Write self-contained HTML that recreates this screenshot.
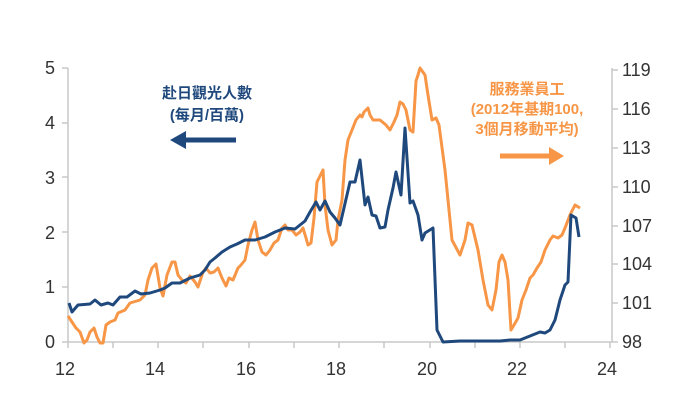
<!DOCTYPE html>
<html><head><meta charset="utf-8"><style>body{margin:0;background:#fff}svg{display:block}</style></head><body>
<svg width="700" height="420" xmlns="http://www.w3.org/2000/svg" font-family="Liberation Sans, Noto Sans CJK TC, sans-serif">
<g stroke="#c8c8c8" stroke-width="1.5" fill="none">
<line x1="68" y1="342" x2="612" y2="342"/>
<line x1="68" y1="68" x2="68" y2="342"/>
<line x1="612" y1="68" x2="612" y2="342"/>
<path d="M68 342v6M113 342v6M158 342v6M203 342v6M249 342v6M294 342v6M339 342v6M384 342v6M430 342v6M475 342v6M520 342v6M565 342v6M610 342v6"/>
<path d="M62 68h6M62 123h6M62 177h6M62 232h6M62 287h6M62 342h6"/>
<path d="M612 70h6M612 109h6M612 148h6M612 187h6M612 226h6M612 264h6M612 303h6M612 342h6"/>
</g>
<g fill="#333" font-size="18">
<g text-anchor="end"><text x="55" y="74">5</text><text x="55" y="129">4</text><text x="55" y="184">3</text><text x="55" y="239">2</text><text x="55" y="293">1</text><text x="55" y="348">0</text></g>
<g><text x="622" y="76">119</text><text x="622" y="115">116</text><text x="622" y="154">113</text><text x="622" y="193">110</text><text x="622" y="232">107</text><text x="622" y="270">104</text><text x="622" y="309">101</text><text x="622" y="348">98</text></g>
<g text-anchor="middle"><text x="65" y="375">12</text><text x="155" y="375">14</text><text x="246" y="375">16</text><text x="336" y="375">18</text><text x="427" y="375">20</text><text x="517" y="375">22</text><text x="607" y="375">24</text></g>
</g>
<polyline fill="none" stroke="#f79646" stroke-width="3" stroke-linejoin="round" points="68,316 72,322 76,328 80,332 84,343 87,340 90,332 94,328 97,337 100,343 103,343 106,325 110,322 115,320 118,313 125,310 130,303 140,300 145,295 148,280 152,268 156,264 160,288 163,296 167,275 172,262 175,262 178,275 182,280 186,283 190,276 195,282 198,287 203,272 206,268 210,273 214,272 218,268 222,278 226,286 229,278 233,280 238,268 241,265 245,260 248,245 252,230 255,222 258,240 262,252 266,255 270,250 274,243 278,240 282,228 285,225 288,230 292,230 296,235 300,232 303,228 306,238 308,245 311,243 314,218 317,182 320,176 323,170 325,205 328,230 332,245 336,240 338,220 342,200 345,160 348,140 352,130 356,120 360,115 362,117 364,112 368,108 370,115 373,120 380,120 386,125 390,130 394,122 397,115 400,102 403,104 406,110 410,130 413,132 416,81 418,75 420,68 425,75 428,95 432,120 436,118 439,125 445,170 452,240 460,255 465,240 468,223 472,225 478,250 483,280 488,305 492,310 496,290 499,262 502,255 505,262 508,280 511,330 514,325 518,318 522,300 526,290 530,278 533,275 537,268 541,262 545,250 550,240 553,236 558,238 562,235 565,228 570,215 575,205 580,208"/>
<polyline fill="none" stroke="#1f497d" stroke-width="3" stroke-linejoin="round" points="69,303 72,312 78,305 90,304 95,300 101,305 108,303 113,305 120,297 127,297 135,291 141,294 150,293 160,290 165,288 172,283 180,283 190,278 200,275 205,270 210,262 215,258 222,252 230,247 237,244 245,240 255,240 265,237 275,232 285,228 295,229 305,221 310,212 316,202 320,210 325,201 330,212 335,218 340,225 350,182 355,182 360,160 365,205 368,197 372,215 376,216 380,228 385,227 388,210 393,188 396,172 401,195 405,128 410,203 413,201 418,215 422,240 425,233 433,228 437,330 443,342 460,341 500,341 510,340 520,340 530,336 540,332 545,333 550,330 555,320 560,300 565,285 568,282 571,215 576,218 579,237"/>
<g fill="#1f497d" font-size="15" font-weight="bold" text-anchor="end">
<text x="252" y="98">赴日觀光人數</text><text x="244" y="120">(每月/百萬)</text></g>
<line x1="184" y1="140" x2="236" y2="140" stroke="#1f497d" stroke-width="5"/>
<polygon points="170,140 186,131 186,149" fill="#1f497d"/>
<g fill="#f79646" font-size="15" font-weight="bold" text-anchor="middle">
<text x="527" y="94">服務業員工</text><text x="527" y="114">(2012年基期100,</text><text x="527" y="134">3個月移動平均)</text></g>
<line x1="500" y1="156" x2="550" y2="156" stroke="#f79646" stroke-width="5"/>
<polygon points="564,156 549,147 549,165" fill="#f79646"/>
</svg>
</body></html>
